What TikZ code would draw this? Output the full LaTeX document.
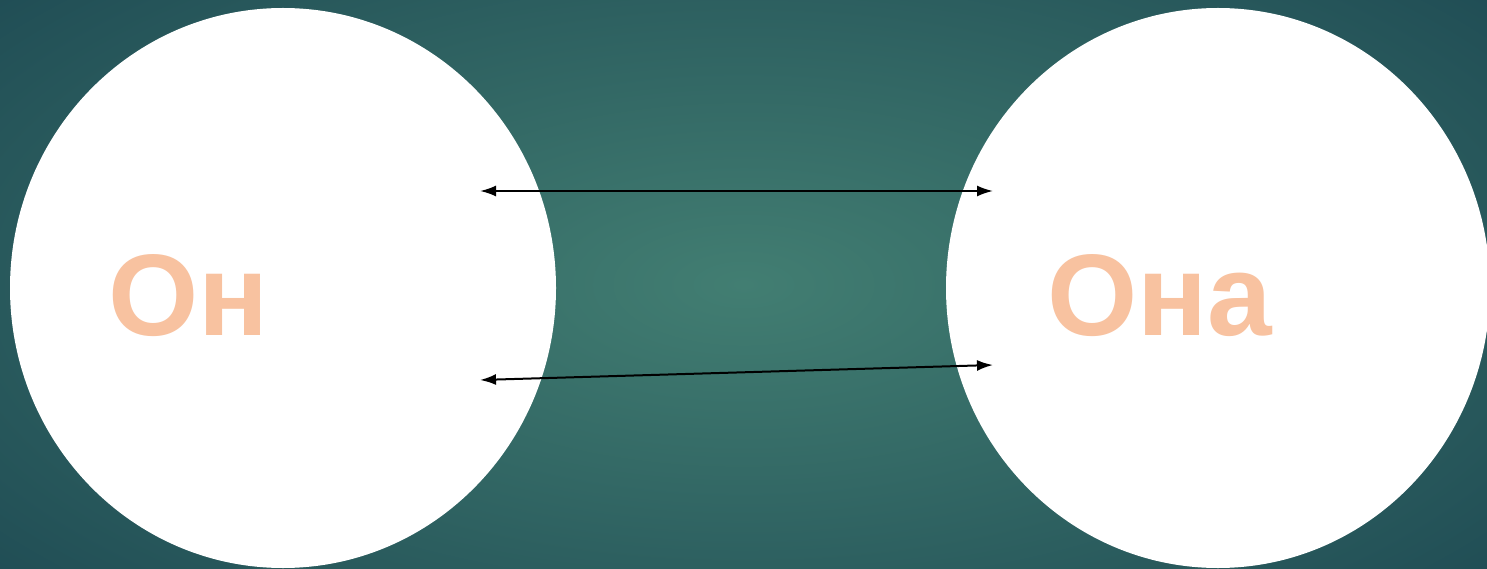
\documentclass[tikz,border=0pt]{standalone}
\usepackage{fontspec}
\setmainfont{Liberation Sans}
\usetikzlibrary{arrows.meta}
\definecolor{bginner}{HTML}{427E72}
\definecolor{bgouter}{HTML}{1E4A53}
\definecolor{peach}{HTML}{F8C2A0}
\tikzset{
  blob/.style={fill=white, draw=none},
  word/.style={text=peach, font=\fontsize{116}{116}\selectfont\bfseries, inner sep=0pt, anchor=base west},
  link/.style={line width=2pt, {Latex[length=16pt,width=11pt]}-{Latex[length=16pt,width=11pt]}}
}
\begin{document}
\begin{tikzpicture}[x=1pt,y=-1pt]
\useasboundingbox (0,0) rectangle (1487,569);
\shade[inner color=bginner, outer color=bgouter] (-300,-200) rectangle (1787,769);
\fill[blob] (283,288) ellipse [x radius=273, y radius=280];
\fill[blob] (1218,288) ellipse [x radius=272, y radius=280];
\node[word] (he) at (108,335) {Он};
\node[word] (she) at (1047,335) {Она};
\coordinate (a1) at (480,191);
\coordinate (b1) at (993,191);
\coordinate (a2) at (480,380);
\coordinate (b2) at (993,365);
\draw[link] (a1) -- (b1);
\draw[link] (a2) -- (b2);
\end{tikzpicture}
\end{document}
